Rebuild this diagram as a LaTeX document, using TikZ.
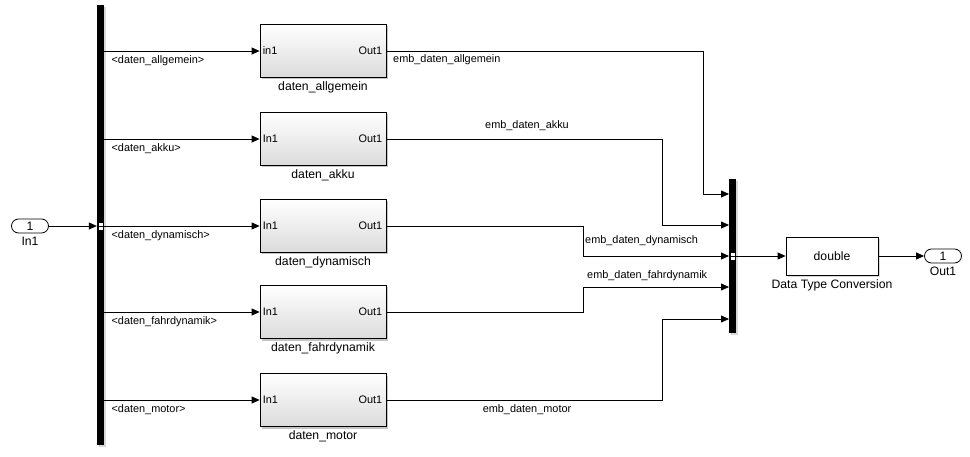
\documentclass[tikz,border=0pt]{standalone}
\usepackage{fontspec}
\setmainfont{Liberation Sans}
\usetikzlibrary{arrows.meta,shadows}

\newcommand\sigsize{\fontsize{10.9}{12}\selectfont}
\newcommand\namesize{\fontsize{12.2}{14}\selectfont}

\tikzset{
  sig/.style={draw, line width=0.8pt, -{Triangle[length=8pt,width=7pt]}},
  subsys/.style={draw, line width=0.8pt, minimum width=126pt, minimum height=53pt,
    top color=white, bottom color=black!14,
    drop shadow={shadow xshift=2pt, shadow yshift=-2pt, opacity=0.45}},
  convbox/.style={draw, fill=white, line width=0.8pt, minimum width=92pt, minimum height=38pt,
    font=\namesize, drop shadow={shadow xshift=2pt, shadow yshift=-2pt, opacity=0.3}},
  bar/.style={fill=black, minimum width=7pt, inner sep=0pt,
    drop shadow={shadow xshift=2pt, shadow yshift=-2pt, opacity=0.3}},
  portmark/.style={draw=black, fill=white, line width=0.6pt, minimum width=5pt, minimum height=8pt, inner sep=0pt},
  port/.style={draw, line width=0.8pt, rounded corners=7pt, minimum width=37pt, minimum height=14pt,
    inner sep=0pt, font=\namesize},
  lbl/.style={font=\sigsize, inner sep=1pt},
  blkname/.style={font=\namesize, inner sep=1pt}
}

\begin{document}
\begin{tikzpicture}[x=1pt,y=-1pt]
  \path[fill=white, use as bounding box] (0,0) rectangle (970,457);

  \node[port] (inport) at (30,226) {1};
  \node[blkname, below=3pt] (inport-name) at (inport.south) {In1};
  \node[bar, minimum height=440pt] (demux) at (100.5,225) {};
  \draw[sig] (inport.east) -- (demux.west |- inport.east);
  \node[portmark] (dmark) at (demux.center |- inport.east) {};
  \draw[line width=0.6pt] (dmark.west) -- (dmark.east);

  \foreach \y/\n/\p in {51/allgemein/in1,139/akku/In1,226/dynamisch/In1,312/fahrdynamik/In1,400/motor/In1}{
    \node[subsys] (\n) at (323,\y) {};
    \node[lbl, anchor=west, inner sep=3pt] (\n-in) at (\n.west) {\p};
    \node[lbl, anchor=east, inner sep=4pt] (\n-out) at (\n.east) {Out1};
    \node[blkname, below=3pt] (\n-name) at (\n.south) {daten\_\n};
    \draw[sig] (demux.east |- \n.west) -- node[lbl, pos=0, anchor=north west, xshift=6pt, yshift=-3pt] (\n-sig) {<daten\_\n>} (\n.west);
  }

  \node[bar, minimum height=154pt] (mux) at (732.5,256) {};
  \coordinate (m1) at (729,194);
  \coordinate (m2) at (729,225);
  \coordinate (m3) at (729,256);
  \coordinate (m4) at (729,287);
  \coordinate (m5) at (729,319);

  \draw[sig] (allgemein.east) -| ([xshift=-26pt]m1) -- (m1);
  \draw[sig] (akku.east) -| ([xshift=-67pt]m2) -- (m2);
  \draw[sig] (dynamisch.east) -| ([xshift=-146pt]m3) -- (m3);
  \draw[sig] (fahrdynamik.east) -| ([xshift=-146pt]m4) -- (m4);
  \draw[sig] (motor.east) -| ([xshift=-67pt]m5) -- (m5);

  \node[lbl, anchor=west] (l1) at (392,60) {emb\_daten\_allgemein};
  \node[lbl] (l2) at (527,126) {emb\_daten\_akku};
  \node[lbl, anchor=west] (l3) at (584,241) {emb\_daten\_dynamisch};
  \node[lbl, anchor=west] (l4) at (586,276) {emb\_daten\_fahrdynamik};
  \node[lbl] (l5) at (527,410) {emb\_daten\_motor};

  \node[portmark] (mmark) at (mux.center |- m3) {};
  \draw[line width=0.6pt] (mmark.west) -- (mmark.east);

  \node[convbox] (dtc) at (832,256) {double};
  \node[blkname, below=3pt] (dtc-name) at (dtc.south) {Data Type Conversion};
  \draw[sig] (mux.east |- dtc.west) -- (dtc.west);

  \node[port] (outport) at (943,256) {1};
  \node[blkname, below=2pt] (outport-name) at (outport.south) {Out1};
  \draw[sig] (dtc.east) -- (outport.west);
\end{tikzpicture}
\end{document}
